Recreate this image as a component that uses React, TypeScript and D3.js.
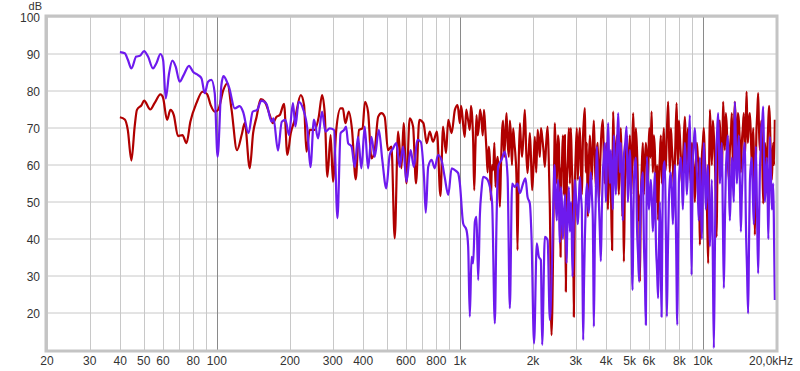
import React from "react";
import * as d3 from "d3";

// Frequency axis ticks
const xGridHz = [20, 30, 40, 50, 60, 70, 80, 90, 100, 200, 300, 400, 500, 600, 700, 800, 900, 1000, 2000, 3000, 4000, 5000, 6000, 7000, 8000, 9000, 10000, 20000];
const xDecadeHz = [100, 1000, 10000];
const xTickLabels: [number, string][] = [
  [20, "20"], [30, "30"], [40, "40"], [50, "50"], [60, "60"], [80, "80"], [100, "100"],
  [200, "200"], [300, "300"], [400, "400"], [600, "600"], [800, "800"], [1000, "1k"],
  [2000, "2k"], [3000, "3k"], [4000, "4k"], [5000, "5k"], [6000, "6k"], [8000, "8k"], [10000, "10k"],
];
const lastXLabel = "20,0kHz";
const yTicks = [20, 30, 40, 50, 60, 70, 80, 90, 100];
const yUnit = "dB";

// Series: [frequency Hz, level dB]
const redSeries: [number, number][] = [
  [39.9, 72.9], [41.8, 72.3], [43, 69.5], [44.5, 61.2], [45.9, 70.4], [46.9, 74.9], [49, 76.2], [50.2, 77.4],
  [53.2, 75], [55.5, 76.8], [58.6, 79.1], [60, 78.3], [62.4, 72.2], [64.4, 74.9], [66.5, 73.5], [69.2, 67.8],
  [72.2, 68.1], [75, 65.9], [77.8, 71.7], [82.4, 76.7], [87.3, 79.8], [91.1, 79.2], [94.3, 76.2], [98, 74.4],
  [101.2, 74.9], [106.4, 80.3], [110.5, 82.1], [115, 74.9], [121, 64], [127, 68.6], [130.3, 71.4], [136.6, 59.1],
  [141, 68.6], [145.7, 73], [151.6, 77.8], [157.5, 77.1], [165.1, 73.5], [170, 71.3], [175.8, 73], [181.5, 73.5],
  [189, 76.5], [195, 62.7], [201.4, 68.6], [209.2, 72.2], [221.5, 78.9], [228.5, 76.2], [233.7, 63.6], [241.1, 69.5],
  [252.8, 69.5], [262.6, 73], [271, 78.9], [277.9, 74], [285, 56.8], [294, 68.1], [300.5, 55.5], [310, 69.5],
  [323, 75.3], [330, 75.3], [338, 71.3], [349, 74.4], [360, 69.5], [372.8, 56.1], [384.8, 69.5], [397.5, 69.9],
  [407, 77.1], [419, 74.4], [432.8, 61.8], [446.3, 64], [461, 73], [476, 74], [490.6, 73], [506, 64],
  [523, 65], [539.4, 40.2], [557, 69], [575, 59.1], [587, 71.3], [603, 55], [621.7, 72.6], [642, 70.4],
  [660, 55], [681, 72.2], [708, 71.3], [731, 65.9], [751.4, 69], [776, 66.3], [805, 69], [832, 51.6],
  [853, 70.4], [877, 63.2], [896, 72.2], [925, 68.6], [954, 74.9], [979, 76.2], [1000, 71.3], [1011, 76],
  [1022, 74], [1035, 70], [1048, 67.6], [1062, 75], [1076, 73], [1088, 71], [1099, 69.5], [1111, 76],
  [1124, 73], [1135, 66], [1146, 53.2], [1158, 64], [1171, 73.5], [1184, 68], [1197, 70.4], [1212, 75],
  [1228, 72.2], [1242, 68], [1257, 74.9], [1272, 70], [1287, 64], [1301, 58], [1315, 65], [1328, 62],
  [1341, 50.5], [1356, 60], [1372, 58.6], [1387, 66], [1402, 54.1], [1416, 60], [1431, 62.2], [1446, 58],
  [1461, 48.7], [1477, 60], [1493, 69.5], [1507, 72], [1522, 62.2], [1539, 68], [1556, 74], [1573, 66],
  [1591, 62.2], [1606, 72], [1621, 68.6], [1639, 60], [1657, 69.9], [1676, 66], [1695, 62.2], [1711, 56],
  [1727, 37], [1746, 60], [1766, 71.3], [1784, 66], [1803, 62.2], [1827, 68], [1851, 74.9], [1875, 64],
  [1899, 57.8], [1920, 63], [1941, 68.6], [1962, 62], [1984, 53.2], [2010, 60], [2035, 67.6], [2062, 58],
  [2090, 69.5], [2112, 66], [2134, 62.2], [2157, 70], [2181, 67.6], [2209, 64], [2238, 59.5], [2267, 66],
  [2297, 70.4], [2321, 62], [2346, 48.7], [2384, 14], [2442, 58.6],
  [2451, 66], [2460, 71.3], [2483, 62], [2507, 55], [2531, 68], [2555, 66], [2575, 50], [2597, 35.2],
  [2612, 58], [2629, 60], [2655, 68], [2679, 52], [2692, 62], [2705, 68.1], [2717, 48], [2730, 25.8],
  [2757, 56], [2783, 62], [2810, 70], [2836, 55], [2850, 64], [2863, 70], [2890, 60], [2918, 50],
  [2930, 40], [2945, 19], [2973, 52], [3002, 64], [3030, 70], [3059, 56], [3088, 66], [3118, 70],
  [3147, 60], [3177, 52], [3192, 58], [3208, 66], [3238, 72], [3269, 75.4], [3285, 66], [3300, 58],
  [3330, 66], [3363, 46], [3395, 60], [3428, 68], [3460, 62], [3493, 56], [3526, 66], [3560, 72],
  [3594, 62], [3628, 54], [3662, 64], [3697, 66], [3733, 50], [3769, 58], [3820, 68], [3877, 72.2],
  [3914, 62], [3951, 55], [3990, 64], [4027, 66], [4045, 58], [4065, 48], [4104, 58], [4143, 62],
  [4188, 52], [4233, 37], [4253, 60], [4273, 74.4], [4308, 66], [4344, 58], [4385, 64], [4427, 68],
  [4470, 60], [4512, 52], [4555, 64], [4598, 70], [4630, 60], [4664, 46], [4697, 52], [4731, 33.9],
  [4776, 54], [4822, 62], [4870, 68], [4916, 55], [4962, 60], [5008, 68], [5044, 60], [5080, 52],
  [5123, 64], [5166, 74], [5208, 66], [5251, 58], [5300, 70], [5351, 65], [5390, 58], [5428, 45],
  [5466, 52], [5505, 28.5], [5557, 50], [5610, 60], [5664, 66], [5718, 52], [5772, 60], [5827, 66],
  [5882, 62], [5938, 56], [5980, 64], [6024, 70], [6087, 62], [6150, 74.4], [6188, 66], [6227, 58],
  [6286, 68], [6346, 64], [6391, 56], [6437, 50], [6490, 60], [6546, 45.1], [6600, 56], [6654, 62],
  [6717, 68], [6781, 55], [6846, 64], [6912, 70], [6977, 58], [7044, 60], [7120, 70], [7200, 77.1],
  [7257, 66], [7315, 58], [7385, 70], [7455, 65], [7526, 60], [7598, 54], [7696, 64], [7795, 76.7],
  [7844, 68], [7894, 60], [7968, 72], [8042, 68], [8119, 62], [8196, 55], [8314, 64], [8432, 73],
  [8512, 66], [8593, 60], [8675, 70], [8757, 66], [8841, 60], [8925, 55], [9010, 66], [9096, 62],
  [9183, 58], [9270, 50], [9358, 60], [9447, 66], [9537, 62], [9628, 58], [9674, 50], [9720, 38.4],
  [9812, 52], [9905, 62], [10000, 66], [10094, 70], [10190, 62], [10288, 56], [10400, 48], [10520, 33.4],
  [10600, 56], [10686, 74.9], [10788, 68], [10890, 60], [10994, 72], [11098, 68], [11244, 58], [11390, 40.6],
  [11460, 54], [11530, 64], [11640, 70], [11748, 72], [11860, 62], [11972, 58], [12046, 66], [12120, 77.1],
  [12220, 70], [12318, 64], [12435, 74], [12553, 70], [12673, 62], [12794, 56], [12915, 64], [13037, 68],
  [13160, 74], [13286, 60], [13412, 68], [13542, 77.1], [13670, 70], [13800, 64], [13930, 74], [14064, 72],
  [14198, 66], [14334, 58], [14470, 66], [14607, 70], [14747, 74], [14888, 62], [15010, 70], [15130, 79.8],
  [15225, 72], [15320, 66], [15464, 72], [15610, 74], [15760, 68], [15908, 60], [16022, 66], [16138, 70],
  [16250, 58], [16368, 41.1], [16484, 56], [16600, 68], [16745, 74], [16890, 79.4], [17025, 70], [17162, 64],
  [17285, 68], [17410, 72], [17565, 62], [17720, 49.6], [17856, 58], [17994, 66], [18166, 62], [18340, 58],
  [18470, 66], [18600, 72], [18733, 76], [18867, 72.6], [19047, 62], [19228, 56], [19358, 62], [19490, 66],
  [19636, 60], [19783, 72.2],
];

const purpleSeries: [number, number][] = [
  [39.9, 90.5], [41.8, 90.2], [43, 88.5], [44.5, 86.1], [46.6, 89.3], [48.2, 89.5], [50.2, 90.8], [52.1, 89.3],
  [54.6, 86.1], [56.4, 87.5], [58.6, 90], [60.1, 88.4], [61.6, 78], [63.6, 84.8], [65.6, 88.2], [67.7, 86.6],
  [70.3, 82.5], [73, 84.3], [76.8, 86.8], [79.8, 85.2], [83.7, 84.3], [86.5, 83.4], [89.1, 79.4], [92, 82.5],
  [95, 83], [98, 79.4], [100.7, 62.2], [104.4, 81.6], [106.5, 84], [110, 82.5], [112.3, 81], [118.5, 75.3],
  [124.2, 75.9], [128.2, 74.4], [135, 68.6], [140.4, 74.4], [146.4, 74.9], [152.6, 77.4], [160, 76.5], [168, 71.7],
  [171, 72.6], [178.5, 63.9], [185, 71.7], [191.5, 72.2], [198, 68.1], [205.7, 76.7], [210.5, 70.4], [217.2, 77.1],
  [226, 75.3], [236, 69.5], [242.7, 59.4], [251, 72.3], [260.9, 67.2], [271, 74.4], [280, 69], [291.4, 69.9],
  [303.5, 69.5], [313.5, 45.6], [323, 68.6], [334, 69.5], [340, 70.4], [347, 65.9], [358.3, 65], [369.3, 59.5],
  [381, 67.6], [393.5, 59.1], [406, 70.4], [419, 59.1], [432.8, 67.6], [446.3, 62.2], [464, 69.5], [479.5, 61.4],
  [498, 53.7], [514.4, 62.7], [531, 64.5], [548, 65.9], [565.5, 59.5], [584, 65], [603, 55.5], [627, 64],
  [647, 59.5], [668, 66.8], [690, 66.3], [712, 56.8], [724, 47.1], [741, 59.5], [765, 61.4], [788, 59.1],
  [813, 62.7], [840, 61.4], [866, 56.8], [896, 51.9], [925, 59.1], [954, 58.6], [984, 57.8], [1000, 55],
  [1032, 44.2], [1065, 42.4], [1082, 37.9], [1099, 19], [1117, 35.2], [1134, 33.4], [1153, 44.7], [1171, 46],
  [1190, 28.9], [1209, 46.5], [1228, 53.2], [1246, 56.8], [1287, 56.4], [1329, 54.1], [1358, 49.6], [1393, 17.2],
  [1415, 44.2], [1437, 59.5], [1484, 61.4], [1532, 63.6], [1572, 56.8], [1606, 21.3], [1641, 55], [1684, 54.1],
  [1727, 55], [1766, 52.4], [1821, 55], [1863, 56.4], [1899, 51.4], [1941, 49.6], [1972, 40.6], [2020, 11.8],
  [2073, 38.8], [2114, 35.2], [2155, 34.3], [2181, 11.4], [2238, 40.6], [2297, 39.7], [2346, 18.1], [2397, 35.2],
  [2442, 56.8], [2451, 60], [2460, 58], [2483, 50], [2507, 45], [2531, 56], [2555, 52], [2567, 44],
  [2579, 39], [2604, 54], [2629, 50], [2654, 40], [2679, 46], [2714, 52], [2749, 33.5], [2766, 42],
  [2783, 48], [2810, 54], [2836, 42], [2872, 50], [2909, 29.8], [2927, 38], [2945, 45], [2973, 56],
  [3002, 52], [3030, 48], [3059, 44], [3088, 50], [3118, 56.8], [3147, 52], [3177, 48], [3197, 30],
  [3218, 12.7], [3243, 28], [3269, 40], [3300, 50], [3332, 55], [3363, 50], [3395, 47], [3427, 54],
  [3460, 58], [3493, 52], [3526, 45], [3543, 30], [3560, 16.3], [3594, 40], [3628, 52], [3645, 60],
  [3663, 65], [3698, 56], [3733, 50], [3768, 42], [3804, 34], [3840, 48], [3877, 58], [3914, 62],
  [3951, 66], [3970, 58], [3989, 50], [4033, 62], [4078, 71.3], [4110, 62], [4143, 55], [4162, 60],
  [4182, 64], [4222, 56], [4262, 48], [4282, 58], [4303, 68], [4344, 60], [4385, 52], [4434, 64],
  [4483, 74], [4519, 66], [4555, 58], [4576, 62], [4598, 66], [4642, 56], [4686, 45], [4708, 54],
  [4731, 62], [4793, 66], [4855, 70.4], [4885, 60], [4916, 50], [4962, 58], [5008, 64], [5073, 48],
  [5138, 26.2], [5170, 42], [5201, 55], [5250, 60], [5301, 62], [5326, 54], [5351, 45], [5410, 36],
  [5469, 28.5], [5513, 42], [5558, 52], [5611, 56], [5665, 58], [5691, 50], [5718, 40], [5772, 30],
  [5827, 16.8], [5855, 40], [5883, 62.2], [5940, 56], [5996, 48], [6053, 52], [6110, 56], [6168, 50],
  [6227, 42], [6286, 50], [6346, 58], [6376, 50], [6406, 40], [6476, 32], [6546, 24], [6600, 38],
  [6654, 50], [6708, 36], [6762, 19], [6804, 38], [6846, 55], [6911, 60], [6977, 61], [7043, 42],
  [7110, 19], [7178, 36], [7246, 50], [7315, 56], [7385, 58], [7456, 52], [7527, 44], [7598, 54],
  [7670, 60], [7760, 40], [7850, 16.8], [7908, 38], [7966, 55], [8042, 60], [8119, 62], [8196, 56],
  [8274, 48], [8353, 58], [8432, 66], [8512, 60], [8593, 52], [8717, 62], [8841, 73.5], [8913, 52],
  [8985, 30.3], [9040, 46], [9096, 60], [9183, 66], [9270, 70], [9358, 64], [9447, 58], [9537, 52],
  [9628, 45], [9674, 54], [9720, 62], [9812, 52], [9905, 40], [10000, 54], [10094, 66], [10190, 58],
  [10288, 48], [10386, 55], [10485, 60], [10585, 50], [10686, 38], [10788, 48], [10890, 56], [10994, 34],
  [11098, 10.5], [11204, 36], [11310, 60], [11434, 68], [11560, 74], [11654, 64], [11748, 55], [11860, 62],
  [11972, 66], [12086, 46], [12201, 26.7], [12318, 44], [12434, 58], [12552, 64], [12671, 68], [12792, 56],
  [12915, 45], [13037, 54], [13160, 62], [13286, 56], [13412, 50], [13477, 64], [13542, 77.1], [13670, 66],
  [13800, 55], [13932, 62], [14064, 68], [14198, 56], [14334, 42], [14470, 52], [14607, 60], [14747, 64],
  [14888, 66], [14960, 56], [15030, 45], [15195, 32], [15360, 19.9], [15485, 38], [15610, 55], [15760, 60],
  [15908, 62], [16060, 52], [16212, 44], [16368, 56], [16524, 65], [16707, 48], [16890, 30.7], [17026, 44],
  [17162, 58], [17285, 64], [17410, 70], [17565, 72], [17720, 75.8], [17856, 62], [17994, 50], [18166, 56],
  [18340, 62], [18470, 52], [18600, 40], [18733, 54], [18867, 67.6], [19047, 58], [19228, 48], [19358, 52],
  [19490, 55], [19636, 40], [19783, 23.5],
];

const W = 800;
const H = 371;
const left = 47;
const right = 776;
const top = 17;
const bottom = 350;

export default function App() {
  const x = d3.scaleLog().domain([20, 20000]).range([left, right]);
  const y = d3.scaleLinear().domain([10, 100]).range([bottom, top]);
  const line = d3
    .line<[number, number]>()
    .x((d) => x(d[0]))
    .y((d) => y(d[1]))
    .curve(d3.curveMonotoneX);

  const font = "Arial, 'Liberation Sans', sans-serif";

  return (
    <svg
      width={W}
      height={H}
      style={{ position: "absolute", left: 0, top: 0, background: "#fff" }}
      fontFamily={font}
    >
      <defs>
        <clipPath id="plotclip">
          <rect x={left} y={top} width={right - left} height={bottom - top} />
        </clipPath>
      </defs>
      <rect x={0} y={0} width={W} height={H} fill="#fff" />
      {/* grid */}
      {yTicks.map((t) => (
        <line key={"h" + t} x1={left} x2={right} y1={y(t)} y2={y(t)} stroke="#c8c8c8" strokeWidth={1} />
      ))}
      {xGridHz.map((f) => (
        <line
          key={"v" + f}
          x1={Math.round(x(f)) + 0.5}
          x2={Math.round(x(f)) + 0.5}
          y1={top}
          y2={bottom}
          stroke={xDecadeHz.includes(f) ? "#8a8a8a" : "#c8c8c8"}
          strokeWidth={1}
        />
      ))}
      {/* series */}
      <g clipPath="url(#plotclip)" fill="none" strokeLinejoin="round">
        <path d={line(redSeries) || ""} stroke="#b00000" strokeWidth={2.2} />
        <path d={line(purpleSeries) || ""} stroke="#6e1aee" strokeWidth={2.2} />
      </g>
      {/* frame */}
      <rect
        x={left - 1}
        y={top - 1}
        width={right - left + 2}
        height={bottom - top + 2}
        fill="none"
        stroke="#c4c4c4"
        strokeWidth={3}
      />
      {/* y labels */}
      {yTicks.map((t) => (
        <text key={"yl" + t} x={40} y={y(t) + 5} textAnchor="end" fontSize={12} fill="#333">
          {t}
        </text>
      ))}
      <text x={42} y={10} textAnchor="end" fontSize={11} fill="#333">
        {yUnit}
      </text>
      {/* x labels */}
      {xTickLabels.map(([f, s]) => (
        <text key={"xl" + f} x={x(f)} y={365} textAnchor="middle" fontSize={12} fill="#333">
          {s}
        </text>
      ))}
      <text x={793} y={365} textAnchor="end" fontSize={12} fill="#333">
        {lastXLabel}
      </text>
    </svg>
  );
}
